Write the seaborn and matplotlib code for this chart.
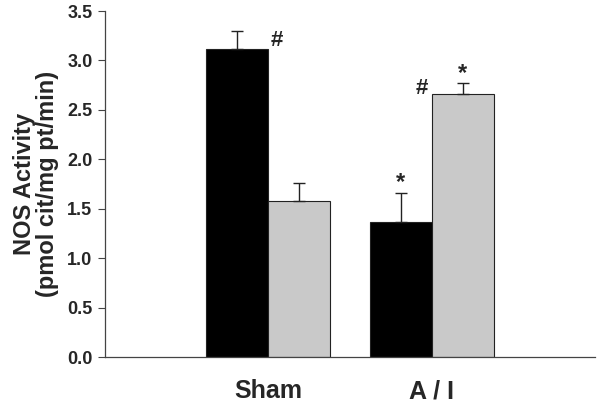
import numpy as np
import pandas as pd
import seaborn as sns
import matplotlib
matplotlib.use("Agg")
import matplotlib.pyplot as plt

# values
groups = ["Sham", "A / I"]
series = ["black", "grey"]
means = {"black": [3.12, 1.37], "grey": [1.58, 2.66]}
errs = {"black": [0.18, 0.29], "grey": [0.18, 0.11]}
yticks = [0.0, 0.5, 1.0, 1.5, 2.0, 2.5, 3.0, 3.5]

sns.set_style("white")
plt.rcParams["font.family"] = ["Liberation Sans", "DejaVu Sans"]
plt.rcParams["font.weight"] = "bold"

rows = []
for s in series:
    for g, m, e in zip(groups, means[s], errs[s]):
        rows.append({"group": g, "series": s, "mean": m, "err": e})
df = pd.DataFrame(rows)

fig = plt.figure(figsize=(6, 4.08), dpi=100)
ax = fig.add_axes([0.175, 0.125, 0.817, 0.848])

sns.barplot(data=df, x="group", y="mean", hue="series", order=groups,
            hue_order=series, palette=["black", "#c9c9c9"], edgecolor="#222222",
            linewidth=0.8, width=0.76, errorbar=None, ax=ax)
if ax.get_legend() is not None:
    ax.get_legend().remove()

# upper-only error bars at each bar
for s, cont in zip(series, ax.containers):
    for bar, e in zip(cont, errs[s]):
        cx = bar.get_x() + bar.get_width() / 2
        top = bar.get_height()
        ax.errorbar(cx, top, yerr=[[0], [e]], fmt="none", ecolor="#222222",
                    elinewidth=1.0, capsize=4, capthick=1.0, zorder=1)

bars_black = ax.containers[0]
bars_grey = ax.containers[1]

# significance marks
b = bars_black[0]
ax.text(b.get_x() + b.get_width() + 0.05, 3.2, "#", fontsize=16, fontweight="bold",
        ha="center", va="center")
b = bars_black[1]
ax.text(b.get_x() + b.get_width() / 2, 1.77, "*", fontsize=17, fontweight="bold",
        ha="center", va="center")
b = bars_grey[1]
ax.text(b.get_x() - 0.06, 2.72, "#", fontsize=16, fontweight="bold",
        ha="center", va="center")
ax.text(b.get_x() + b.get_width() / 2, 2.87, "*", fontsize=17, fontweight="bold",
        ha="center", va="center")

ax.set_xlim(-1.0, 2.0)
ax.set_ylim(0, 3.5)
ax.set_yticks(yticks)
ax.set_yticklabels([f"{t:.1f}" for t in yticks], fontsize=13, fontweight="bold")
ax.tick_params(axis="y", direction="out", length=5, width=0.8, color="#444444", pad=4, left=True)
ax.tick_params(axis="x", length=0, pad=16, labelsize=18)
for lab in ax.get_xticklabels():
    lab.set_fontweight("bold")

ax.set_xlabel("")
ax.set_ylabel("NOS Activity\n(pmol cit/mg pt/min)", fontsize=17, fontweight="bold",
              labelpad=6, linespacing=1.0)

sns.despine(ax=ax)
for side in ["left", "bottom"]:
    ax.spines[side].set_color("#444444")
    ax.spines[side].set_linewidth(0.9)

fig.savefig("out.png", dpi=100)
